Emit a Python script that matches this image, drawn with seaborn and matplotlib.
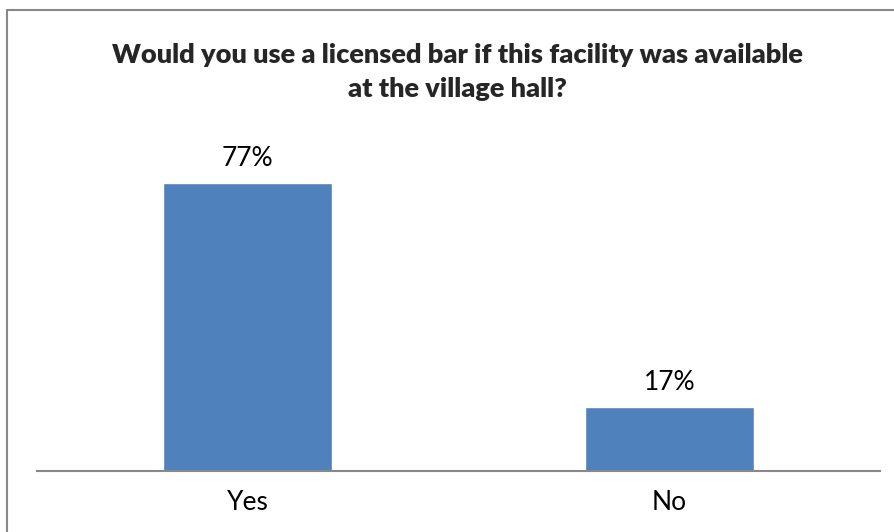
import matplotlib
matplotlib.use("Agg")
import matplotlib.pyplot as plt
import seaborn as sns
import pandas as pd

answers = ["Yes", "No"]
shares = [0.77, 0.17]
share_labels = ["77%", "17%"]

sns.set_theme(style="white")
plt.rcParams["font.family"] = ["Lato", "DejaVu Sans"]

W, H = 895, 532
fig = plt.figure(figsize=(W / 100, H / 100), dpi=100)
ax = fig.add_axes([37 / W, (H - 471) / H, (880 - 37) / W, (471 - 134) / H])

df = pd.DataFrame({"answer": answers, "share": shares})
sns.barplot(data=df, x="answer", y="share", color="#4F81BD", saturation=1,
            width=0.4, ax=ax)
ax.set_ylim(0, 0.9)
ax.set_xlim(-0.5, 1.5)
ax.set_xlabel("")
ax.set_ylabel("")
ax.set_yticks([])
ax.tick_params(axis="x", length=0, labelsize=19, pad=14, colors="black")
for side in ["top", "right", "left"]:
    ax.spines[side].set_visible(False)
ax.spines["bottom"].set_color("#888888")
ax.spines["bottom"].set_linewidth(1.5)

for patch, lab in zip(ax.patches, share_labels):
    ax.annotate(lab, (patch.get_x() + patch.get_width() / 2, patch.get_height()),
                xytext=(0, 17), textcoords="offset pixels", ha="center", va="baseline",
                fontsize=19, color="black")

fig.text(457 / W, 1 - 63 / H, "Would you use a licensed bar if this facility was available",
         ha="center", va="baseline", fontsize=19.5, fontweight="heavy")
fig.text(457 / W, 1 - 97 / H, "at the village hall?",
         ha="center", va="baseline", fontsize=19.5, fontweight="heavy")

# chart frame (only left and top edges are visible in the crop)
fig.add_artist(plt.Line2D([7 / W, 7 / W], [0, 1 - 10 / H], color="#888888", lw=1.5))
fig.add_artist(plt.Line2D([7 / W, 1], [1 - 10 / H, 1 - 10 / H], color="#888888", lw=1.5))

fig.savefig("out.png", dpi=100)
